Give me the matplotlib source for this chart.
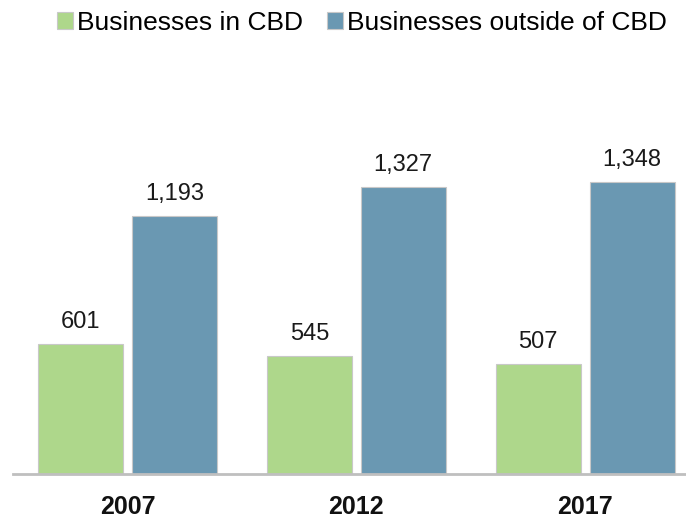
import matplotlib
matplotlib.use("Agg")
import matplotlib.pyplot as plt
import numpy as np

years = ["2007", "2012", "2017"]
in_cbd = [601, 545, 507]
outside_cbd = [1193, 1327, 1348]
series_names = ["Businesses in CBD", "Businesses outside of CBD"]

plt.rcParams['font.family'] = ['Liberation Sans', 'DejaVu Sans']

fig = plt.figure(figsize=(6.86, 5.22), dpi=100)
ax = fig.add_axes([13/686, 48/522, 1 - 13/686, (474-60)/522])

x = np.arange(len(years))
w = 0.371
off = 0.205
green = "#AED78B"
blue = "#6A98B2"
b1 = ax.bar(x - off, in_cbd, w, color=green, edgecolor="#C8C8C8", linewidth=0.8, label=series_names[0])
b2 = ax.bar(x + off, outside_cbd, w, color=blue, edgecolor="#C8C8C8", linewidth=0.8, label=series_names[1])

for bars, vals in ((b1, in_cbd), (b2, outside_cbd)):
    for rect, v in zip(bars, vals):
        ax.annotate(f"{v:,}", (rect.get_x() + rect.get_width()/2, v),
                    xytext=(0, 8), textcoords="offset points", ha="center", va="bottom",
                    fontsize=17, color="#1a1a1a")

ax.set_xlim(-0.5, 2.44)
ax.set_ylim(0, 1914)
ax.set_xticks(x)
ax.set_xticklabels(years, fontsize=18, fontweight="bold", color="#111111")
ax.tick_params(axis="x", length=0, pad=15)
ax.set_yticks([])
for s in ["top", "right", "left"]:
    ax.spines[s].set_visible(False)
ax.spines["bottom"].set_color("#BFBFBF")
ax.spines["bottom"].set_linewidth(2)

fig.legend(handles=[b1, b2], labels=series_names, loc="upper center",
           bbox_to_anchor=(362/686, 1.025), ncol=2, frameon=False, fontsize=19,
           handlelength=0.6, handleheight=0.6, handletextpad=0.15, columnspacing=0.9)

fig.savefig("out.png", dpi=100)
